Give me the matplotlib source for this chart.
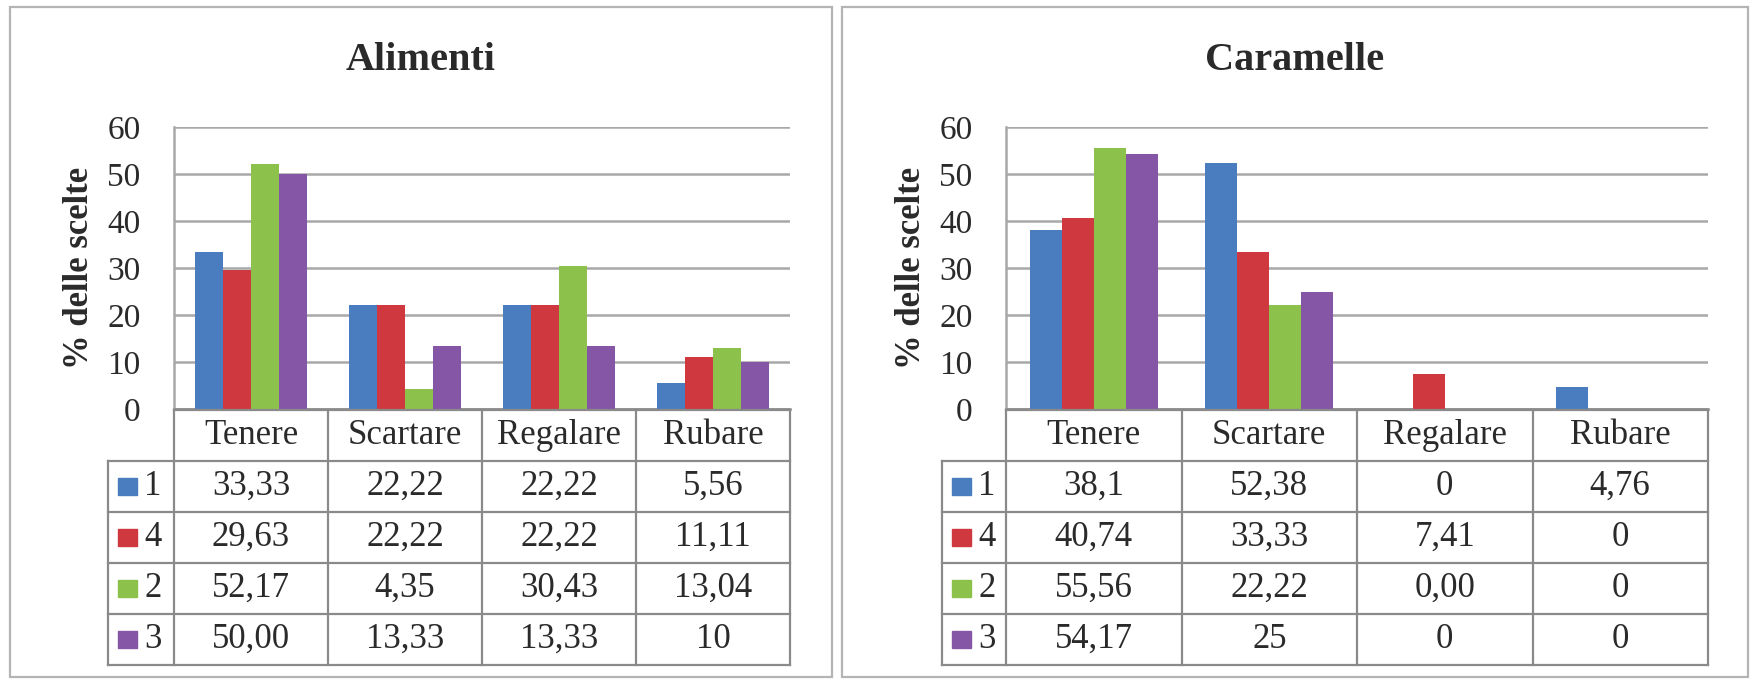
import matplotlib.pyplot as plt
from matplotlib.patches import Rectangle
import numpy as np

W, H = 1752, 680

# dati
categorie = ['Tenere', 'Scartare', 'Regalare', 'Rubare']
serie = ['1', '4', '2', '3']
colori = ['#4A7CC0', '#D0383F', '#8CC24C', '#8556A6']

alimenti_txt = [
    ['33,33', '22,22', '22,22', '5,56'],
    ['29,63', '22,22', '22,22', '11,11'],
    ['52,17', '4,35', '30,43', '13,04'],
    ['50,00', '13,33', '13,33', '10'],
]
caramelle_txt = [
    ['38,1', '52,38', '0', '4,76'],
    ['40,74', '33,33', '7,41', '0'],
    ['55,56', '22,22', '0,00', '0'],
    ['54,17', '25', '0', '0'],
]

plt.rcParams['font.family'] = ['Liberation Serif', 'DejaVu Serif']
testo = '#2a2a2a'
grigio = '#a8a8a8'
linea_tab = '#8a8a8a'

fig = plt.figure(figsize=(W / 100, H / 100), dpi=100)


def px_axes(x0, y0, x1, y1):
    return fig.add_axes([x0 / W, 1 - y1 / H, (x1 - x0) / W, (y1 - y0) / H])


def pannello(bx0, bx1, px0, px1, leg_x0, titolo, tabella):
    # cornice del pannello
    fig.add_artist(Rectangle((bx0 / W, 1 - 677 / H), (bx1 - bx0) / W, (677 - 7) / H,
                             transform=fig.transFigure, fill=False,
                             edgecolor='#b4b4b4', lw=1.6))

    valori = np.array([[float(v.replace(',', '.')) for v in riga] for riga in tabella])

    # grafico a barre
    y_top, y_zero = 127, 409
    ax = px_axes(px0, y_top, px1, y_zero)
    x = np.arange(len(categorie))
    w = 0.1825
    for i, nome in enumerate(serie):
        ax.bar(x + (i - 1.5) * w, valori[i], width=w, color=colori[i], zorder=3)
    ax.set_xlim(-0.5, len(categorie) - 0.5)
    ax.set_ylim(0, 60)
    ax.set_yticks(range(0, 61, 10))
    ax.set_xticks([])
    ax.yaxis.grid(True, color=grigio, lw=1.8, zorder=0)
    for s in ['top', 'right']:
        ax.spines[s].set_visible(False)
    ax.spines['left'].set_color(grigio)
    ax.spines['left'].set_linewidth(1.8)
    ax.spines['bottom'].set_color(linea_tab)
    ax.spines['bottom'].set_linewidth(1.8)
    ax.tick_params(axis='y', length=0, pad=24, labelsize=24, labelcolor=testo)
    ax.set_ylabel('% delle scelte', fontsize=25, fontweight='bold', color=testo)
    ax.yaxis.set_label_coords(-78 / (px1 - px0), 0.5)
    ax.set_facecolor('none')

    fig.text((bx0 + bx1) / 2 / W, 1 - 61 / H, titolo, ha='center', va='center',
             fontsize=29, fontweight='bold', color=testo)

    # tabella dati
    cat_w = (px1 - px0) / len(categorie)
    leg_w = (px0 - leg_x0) / cat_w
    t_top, t_bot = 410, 665
    tx = px_axes(leg_x0, t_top, px1, t_bot)
    tx.set_xlim(-0.5 - leg_w, len(categorie) - 0.5)
    tx.set_ylim(5, 0)
    tx.axis('off')
    kw = dict(color=linea_tab, lw=1.6, solid_capstyle='projecting', clip_on=False)
    # intestazione
    tx.plot([-0.5, len(categorie) - 0.5], [0, 0], **kw)
    for r in range(1, 6):
        tx.plot([-0.5 - leg_w, len(categorie) - 0.5], [r, r], **kw)
    for c in range(len(categorie) + 1):
        tx.plot([c - 0.5, c - 0.5], [0, 5], **kw)
    tx.plot([-0.5 - leg_w, -0.5 - leg_w], [1, 5], **kw)
    for j, cat in enumerate(categorie):
        tx.text(j, 0.5, cat, ha='center', va='center', fontsize=25, color=testo)
    for i, nome in enumerate(serie):
        for j in range(len(categorie)):
            tx.text(j, i + 1.5, tabella[i][j], ha='center', va='center',
                    fontsize=25, color=testo)
        sq_x = -0.5 - leg_w + 10 / cat_w
        tx.add_patch(Rectangle((sq_x, i + 1.5 - 0.17), 19 / cat_w, 0.34,
                               color=colori[i], clip_on=False))
        tx.text(sq_x + 26 / cat_w, i + 1.5, nome, ha='left', va='center',
                fontsize=25, color=testo)


pannello(10, 832, 174, 790, 108, 'Alimenti', alimenti_txt)
pannello(842, 1748, 1006, 1708, 942, 'Caramelle', caramelle_txt)

fig.savefig('out.png', dpi=100, facecolor='white')
